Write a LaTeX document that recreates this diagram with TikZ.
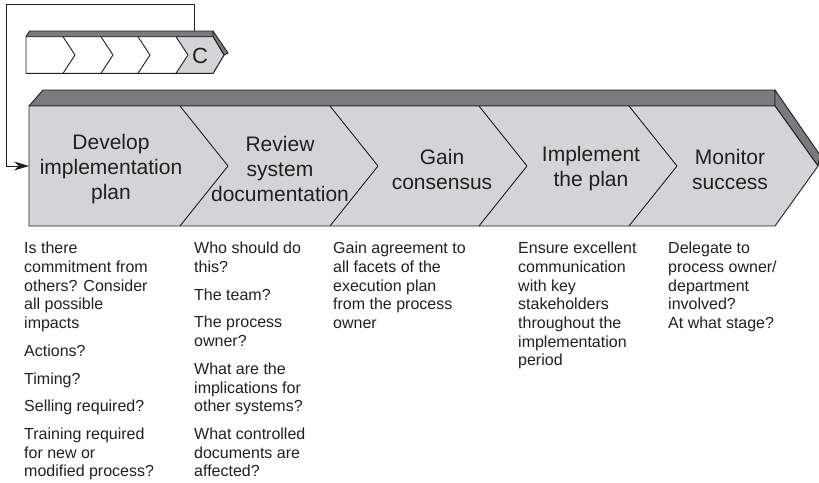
\documentclass[tikz,border=0pt]{standalone}
\usepackage{fontspec}
\setmainfont{Liberation Sans}
\usepackage{tikz}
\usetikzlibrary{arrows.meta, positioning, calc}
\definecolor{cInk}{RGB}{35,31,32}
\definecolor{cFace}{RGB}{211,212,214}
\definecolor{cBand}{RGB}{122,123,126}
\tikzset{
	faceshape/.style={draw=cInk, fill=cFace, line width=0.9pt, line join=round},
	bandshape/.style={draw=cInk, fill=cBand, line width=0.9pt, line join=round},
	whiteshape/.style={draw=cInk, fill=white, line width=0.9pt, line join=round},
	divline/.style={draw=cInk, line width=0.9pt, line join=round},
	stagelabel/.style={align=center, font=\fontsize{21}{25}\selectfont, text=cInk, inner sep=0pt},
	notetext/.style={align=left, anchor=north west, font=\fontsize{16}{18.7}\selectfont, text=cInk, inner sep=0pt},
	fbline/.style={draw=cInk, line width=1pt, -{Stealth[length=15pt, width=9pt]}},
}
\begin{document}
\begin{tikzpicture}[x=1pt, y=-1pt]
	\useasboundingbox (0,0) rectangle (819,482);
	% small cycle arrow
	\draw[bandshape] (26,36.7) -- (29.5,31) -- (213,31) -- (213,36.7) -- cycle;
	\draw[bandshape] (213,31) -- (228,53) -- (224,55) -- (213,36.7) -- cycle;
	\draw[whiteshape] (26,36.7) -- (213,36.7) -- (224,55) -- (213,73.3) -- (26,73.3) -- cycle;
	\draw[faceshape] (176,36.7) -- (213,36.7) -- (224,55) -- (213,73.3) -- (176,73.3) -- (188,55) -- cycle;
	\foreach \t in {63,101,138} {
		\draw[divline] (\t,36.7) -- ++(12,18.3) -- ++(-12,18.3);
	}
	\node[stagelabel, font=\fontsize{22}{25}\selectfont] (cyc) at (200,56) {C};
	\coordinate (smallout) at (194,31);
	% main arrow
	\draw[bandshape] (29,106) -- (43,90) -- (775,90) -- (775,106) -- cycle;
	\draw[bandshape] (775,90) -- (820,155) -- (818,166) -- (775,106) -- cycle;
	\draw[faceshape] (29,106) -- (775,106) -- (818,166) -- (775,226) -- (29,226) -- cycle;
	\foreach \t in {180,330,479,629} {
		\draw[divline] (\t,106) -- ++(48,60) -- ++(-48,60);
	}
	\foreach \txt/\x/\n in {{Develop\\implementation\\plan}/111/1, {Review\\system\\documentation}/280/2,
		{Gain\\consensus}/442/3, {Implement\\the plan}/591/4, {Monitor\\success}/730/5} {
		\node[stagelabel] (s\n) at (\x,169) {\txt};
	}
	\coordinate (mainin) at (29,166);
	% feedback loop
	\draw[fbline] (smallout) |- (6,4) |- (mainin);
	% notes under each stage
	\node[notetext] (n1) at (24,242) {Is there\\commitment from\\others? Consider\\all possible\\impacts\\[9pt]Actions?\\[9pt]Timing?\\[9pt]Selling required?\\[9pt]Training required\\for new or\\modified process?};
	\node[notetext] (n2) at (194,242) {Who should do\\this?\\[9pt]The team?\\[9pt]The process\\owner?\\[9pt]What are the\\implications for\\other systems?\\[9pt]What controlled\\documents are\\affected?};
	\node[notetext] (n3) at (333,242) {Gain agreement to\\all facets of the\\execution plan\\from the process\\owner};
	\node[notetext] (n4) at (518,242) {Ensure excellent\\communication\\with key\\stakeholders\\throughout the\\implementation\\period};
	\node[notetext] (n5) at (668,242) {Delegate to\\process owner/\\department\\involved?\\At what stage?};
\end{tikzpicture}
\end{document}
